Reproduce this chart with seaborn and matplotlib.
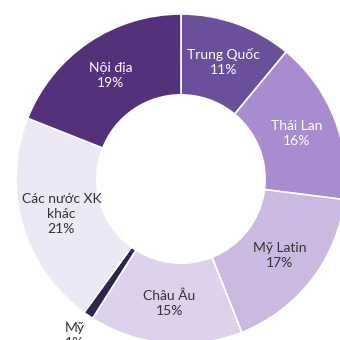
import numpy as np
import matplotlib
matplotlib.use("Agg")
import matplotlib.pyplot as plt
import seaborn as sns

labels = ["Trung Quốc", "Thái Lan", "Mỹ Latin", "Châu Âu", "Mỹ", "Các nước XK\nkhác", "Nội địa"]
values = [11, 16, 17, 15, 1, 21, 19]
colors = ["#6b4f9b", "#a98bcf", "#cbb9e2", "#ddd1ec", "#2d2450", "#ede8f5", "#54317a"]
text_colors = ["white", "white", "#333333", "#333333", "#333333", "#333333", "white"]

sns.set_theme(style="white")
plt.rcParams['font.family'] = ['Lato', 'DejaVu Sans']

fig = plt.figure(figsize=(3.4, 3.4), dpi=100)
R = 165 / 340
ax = fig.add_axes([(181 - 165) / 340, 1 - (179 + 165) / 340, 2 * R, 2 * R])
wedges, _ = ax.pie(values, colors=colors, startangle=90, counterclock=False,
                   radius=1.0, wedgeprops=dict(width=0.49, edgecolor="white", linewidth=1.2))
ax.set_xlim(-1, 1)
ax.set_ylim(-1, 1)
ax.set_aspect("equal")
ax.axis("off")

for w, lab, v, tc in zip(wedges, labels, values, text_colors):
    ang = np.deg2rad((w.theta1 + w.theta2) / 2)
    d = 1.15 if v < 3 else 0.755
    ax.text(d * np.cos(ang), d * np.sin(ang), f"{lab}\n{v}%", ha="center", va="center",
            fontsize=10, color=tc, linespacing=1.3, clip_on=False)

fig.savefig("out.png", dpi=100)
